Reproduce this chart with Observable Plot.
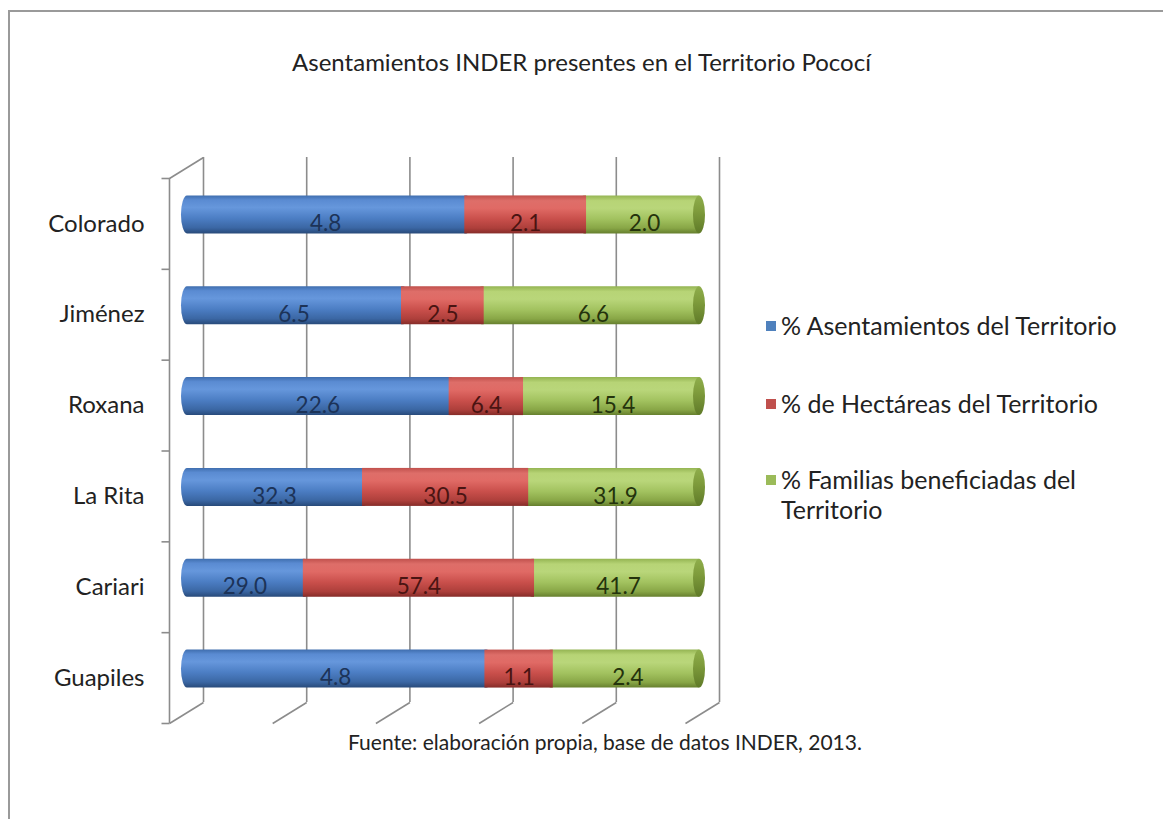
<!DOCTYPE html>
<html>
<head>
<meta charset="utf-8">
<script src="https://cdn.jsdelivr.net/npm/d3@7"></script>
<script src="https://cdn.jsdelivr.net/npm/@observablehq/plot@0.6"></script>
<style>
  html, body { margin: 0; padding: 0; background: #fff; }
  #wrap { position: relative; width: 1163px; height: 819px; overflow: hidden; font-family: Lato, "Open Sans", sans-serif; color: #222; background: #fff; }
  #frame { position: absolute; left: 8px; top: 10px; width: 1200px; height: 900px; border-left: 2.5px solid #9a9a9a; border-top: 2.5px solid #9a9a9a; box-sizing: border-box; }
  #chart { position: absolute; left: 0; top: 0; }
  #title { position: absolute; left: 0; width: 1163px; top: 47px; line-height: 30px; text-align: center; font-size: 24px; }
  #legend { position: absolute; left: 766px; top: 0; font-size: 25px; }
  .item { position: absolute; left: 0; white-space: nowrap; line-height: 30px; }
  .sw { position: absolute; left: 0; top: 11px; width: 10px; height: 10px; }
  .lt { position: absolute; left: 15px; top: 0; }
  #caption { position: absolute; left: 348px; top: 728px; line-height: 28px; font-size: 21px; white-space: nowrap; }
</style>
</head>
<body>
<div id="wrap">
  <div id="frame"></div>
  <div id="chart"></div>
  <div id="title"></div>
  <div id="legend"></div>
  <div id="caption"></div>
</div>
<script>
// ---- data ----
const titleText = "Asentamientos INDER presentes en el Territorio Pococí";
const captionText = "Fuente: elaboración propia, base de datos INDER, 2013.";
const categories = ["Colorado", "Jiménez", "Roxana", "La Rita", "Cariari", "Guapiles"];
const seriesNames = ["% Asentamientos del Territorio", "% de Hectáreas del Territorio", "% Familias beneficiadas del Territorio"];
const asentamientos = [4.8, 6.5, 22.6, 32.3, 29.0, 4.8];
const hectareas = [2.1, 2.5, 6.4, 30.5, 57.4, 1.1];
const familias = [2.0, 6.6, 15.4, 31.9, 41.7, 2.4];
const gridTicks = [0, 20, 40, 60, 80, 100];

// ---- styling / geometry ----
const seriesColors = ["#4f81bd", "#c0504d", "#9bbb59"];
const labelColors = ["#1c3358", "#4a1412", "#24330c"];
const X_RANGE = [169, 685];   // front plane
const Y_RANGE = [178, 723];
const pxX = (X_RANGE[1] - X_RANGE[0]) / 100;
const pxY = (Y_RANGE[1] - Y_RANGE[0]) / categories.length;
const BACK_DX = 34, BACK_DY = 21;   // depth of back wall (px)
const BAR_DX = 17, BAR_DY = -9;     // bars sit mid-depth
const BAR_H = 38;
const gridStroke = "#8c8c8c";

// ---- build stacked (100%) segments ----
const seriesValues = [asentamientos, hectareas, familias];
const segs = [];
categories.forEach((cat, i) => {
  const vals = seriesValues.map(s => s[i]);
  const total = d3.sum(vals);
  let acc = 0;
  vals.forEach((v, k) => {
    const x1 = acc / total * 100;
    acc += v;
    const x2 = acc / total * 100;
    segs.push({cat, i, k, value: v, x1, x2, label: labelColors[k]});
  });
});
const half = BAR_H / 2 / pxY;
const by1 = d => d.i + 0.5 - half;
const by2 = d => d.i + 0.5 + half;
const bxu = BACK_DX / pxX, byu = BACK_DY / pxY;
const rows = categories.map((c, i) => ({cat: c, i}));

const barOpts = {y1: by1, y2: by2, dx: BAR_DX, dy: BAR_DY};

const plot = Plot.plot({
  width: 1163,
  height: 819,
  margin: 0,
  style: {fontFamily: "Lato, 'Open Sans', sans-serif", background: "transparent", overflow: "visible"},
  x: {domain: [0, 100], range: X_RANGE, axis: null},
  y: {domain: [0, categories.length], range: Y_RANGE, axis: null},
  color: {type: "identity"},
  marks: [
    // back wall verticals
    Plot.ruleX(gridTicks, {x: d => d, y1: 0, y2: categories.length, dx: BACK_DX, dy: -BACK_DY, stroke: gridStroke, strokeWidth: 1.6}),
    // floor diagonals
    Plot.link(gridTicks, {x1: d => d, y1: categories.length, x2: d => d + bxu, y2: categories.length - byu, stroke: gridStroke, strokeWidth: 1.6}),
    // left wall front vertical + top diagonal
    Plot.ruleX([0], {x: d => d, y1: 0, y2: categories.length, stroke: gridStroke, strokeWidth: 1.6}),
    Plot.link([0], {x1: d => d, y1: 0, x2: d => d + bxu, y2: -byu, stroke: gridStroke, strokeWidth: 1.6}),
    // left axis ticks
    Plot.link(d3.range(categories.length + 1), {x1: -8 / pxX, x2: 0, y1: d => d, y2: d => d, stroke: gridStroke, strokeWidth: 1.6}),
    // green bodies (extend under red)
    Plot.rect(segs.filter(d => d.k === 2), {x1: "x1", x2: "x2", ...barOpts, insetLeft: -8, insetRight: -2, rx: 6, ry: BAR_H / 2, fill: "url(#gGreen)"}),
    // blue bodies (rounded left, extend under red)
    Plot.rect(segs.filter(d => d.k === 0), {x1: "x1", x2: "x2", ...barOpts, insetLeft: -5, insetRight: -8, rx: 6, ry: BAR_H / 2, fill: "url(#gBlue)"}),
    // red bodies
    Plot.rect(segs.filter(d => d.k === 1), {x1: "x1", x2: "x2", ...barOpts, fill: "url(#gRed)"}),
    // right end cap of each cylinder
    Plot.rect(rows, {x1: 100, x2: 100, y1: by1, y2: by2, dx: BAR_DX, dy: BAR_DY, insetLeft: -9, insetRight: -3, rx: 6, ry: BAR_H / 2, fill: "url(#gCap)"}),
    // value labels
    Plot.text(segs, {x: d => (d.x1 + d.x2) / 2, y: d => d.i + 0.5, text: d => d.value.toFixed(1), fill: "label", fontSize: 22.5, dx: BAR_DX, dy: 0}),
    // category labels
    Plot.text(rows, {x: 0, y: d => d.i + 0.5, text: "cat", textAnchor: "end", dx: -25, fontSize: 24, fill: "#222"})
  ]
});

// gradients for cylinder look
const svg = d3.select(plot);
const defs = svg.insert("defs", ":first-child");
function grad(id, stops) {
  const g = defs.append("linearGradient").attr("id", id).attr("x1", 0).attr("y1", 0).attr("x2", 0).attr("y2", 1);
  stops.forEach(([o, c]) => g.append("stop").attr("offset", o).attr("stop-color", c));
}
grad("gBlue", [[0, "#3f6eae"], [0.12, "#5a8bd2"], [0.32, "#6697dc"], [0.6, "#4c7ec4"], [0.85, "#3b67a4"], [1, "#284a7a"]]);
grad("gRed", [[0, "#c0504c"], [0.14, "#de6e69"], [0.34, "#e06a65"], [0.62, "#c94f4b"], [0.86, "#ad3f3b"], [1, "#862c29"]]);
grad("gGreen", [[0, "#94b452"], [0.14, "#b7d476"], [0.34, "#b9d67a"], [0.62, "#a2c25f"], [0.86, "#88a646"], [1, "#667f2e"]]);
grad("gCap", [[0, "#8fae4c"], [0.4, "#7f9c3c"], [1, "#5f7a28"]]);

document.getElementById("chart").appendChild(plot);
document.getElementById("title").textContent = titleText;
document.getElementById("caption").textContent = captionText;

// legend (HTML, from series arrays); long label wraps onto a second line
const legendTops = [310, 388, 464];
const legend = d3.select("#legend");
seriesNames.forEach((name, k) => {
  const it = legend.append("div").attr("class", "item").style("top", legendTops[k] + "px");
  it.append("div").attr("class", "sw").style("background", seriesColors[k]);
  const words = name.split(" ");
  const lines = k === 2 ? [words.slice(0, -1).join(" "), words[words.length - 1]] : [name];
  lines.forEach((ln, j) => {
    it.append("div").attr("class", "lt").style("top", (j * 30) + "px").text(ln);
  });
});
</script>
</body>
</html>
